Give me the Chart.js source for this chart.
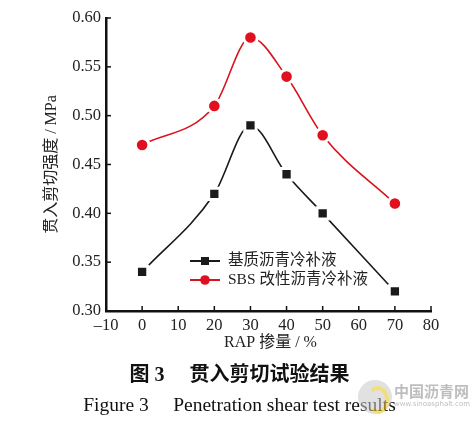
<!DOCTYPE html>
<html>
<head>
<meta charset="utf-8">
<script src="https://cdn.jsdelivr.net/npm/chart.js@4.4.0/dist/chart.umd.min.js"></script>
<style>
  html, body { margin: 0; padding: 0; background: #fff; }
  #wrap { position: relative; width: 475px; height: 424px; overflow: hidden; }
  #cap1, #cap2 { position: absolute; left: 0; width: 475px; text-align: center; white-space: pre; color: #111;
    font-family: 'Liberation Serif', 'Noto Sans CJK SC', serif; }
  #cap1 { top: 358px; left: 2px; font-size: 20px; font-weight: bold; }
  #cap2 { top: 388px; left: 2px; font-size: 19.5px; }
  #wm { position: absolute; left: 358px; top: 378px; width: 117px; height: 40px; opacity: 0.55; }
  #wm .logo { position: absolute; left: 0; top: 2px; width: 34px; height: 34px; border-radius: 50%; background: #c8c8c8; }
  #wm .logo:after { content: ''; position: absolute; left: 9px; top: 6px; width: 14px; height: 20px; border: 4px solid #e7c21a; border-left-color: transparent; border-radius: 50%; }
  #wm .t1 { position: absolute; left: 36px; top: 2px; font: bold 15px 'Noto Sans CJK SC', sans-serif; color: #888; }
  #wm .t2 { position: absolute; left: 36px; top: 22px; font: 7px 'DejaVu Sans', sans-serif; color: #888; }
</style>
</head>
<body>
<div id="wrap">
  <canvas id="chart" width="475" height="424"></canvas>
  <div id="cap1">图 3　 贯入剪切试验结果</div>
  <div id="cap2">Figure 3　 Penetration shear test results</div>
  <div id="wm"><div class="logo"></div><div class="t1">中国沥青网</div><div class="t2">www.sinoasphalt.com</div></div>
</div>
<script>
// RAP 掺量 (%)
const rapContent = [0, 20, 30, 40, 50, 70];
// 贯入剪切强度 (MPa)
const baseAsphalt = [0.34, 0.42, 0.49, 0.44, 0.40, 0.32];
const sbsAsphalt = [0.47, 0.51, 0.58, 0.54, 0.48, 0.41];
const seriesNames = ['基质沥青冷补液', 'SBS 改性沥青冷补液'];
const xTitle = 'RAP 掺量 / %';
const yTitle = '贯入剪切强度 / MPa';

const serif = "'Liberation Serif', 'Noto Sans CJK SC', serif";

function toPoints(xs, ys) {
  return xs.map((x, i) => ({ x: x, y: ys[i] }));
}

// 刻度线朝内，坐标轴标题，图例
const extras = {
  id: 'extras',
  afterDraw(chart) {
    const ctx = chart.ctx;
    const xs = chart.scales.x, ys = chart.scales.y;
    const area = chart.chartArea;
    ctx.save();
    ctx.strokeStyle = '#111';
    ctx.lineWidth = 1.5;
    xs.ticks.forEach(t => {
      const px = xs.getPixelForValue(t.value);
      ctx.beginPath();
      ctx.moveTo(px, area.bottom);
      ctx.lineTo(px, area.bottom - 5);
      ctx.stroke();
    });
    ys.ticks.forEach(t => {
      const py = ys.getPixelForValue(t.value);
      ctx.beginPath();
      ctx.moveTo(area.left, py);
      ctx.lineTo(area.left + 5, py);
      ctx.stroke();
    });

    ctx.fillStyle = '#222';
    ctx.font = '16px ' + serif;
    ctx.textAlign = 'center';
    ctx.textBaseline = 'middle';
    ctx.fillText(xTitle, (area.left + area.right) / 2 + 2, 343);
    ctx.translate(52, (area.top + area.bottom) / 2);
    ctx.rotate(-Math.PI / 2);
    ctx.fillText(yTitle, 0, 0);
    ctx.restore();

    // 图例
    ctx.save();
    const lx = 190, lw = 30, rows = [261, 280];
    chart.data.datasets.forEach((ds, i) => {
      const y = rows[i];
      ctx.strokeStyle = ds.borderColor;
      ctx.lineWidth = 2;
      ctx.beginPath();
      ctx.moveTo(lx, y);
      ctx.lineTo(lx + lw, y);
      ctx.stroke();
      ctx.fillStyle = ds.pointBackgroundColor;
      if (ds.pointStyle === 'rect') {
        ctx.fillRect(lx + lw / 2 - 4, y - 4, 8, 8);
      } else {
        ctx.beginPath();
        ctx.arc(lx + lw / 2, y, 4.8, 0, Math.PI * 2);
        ctx.fill();
      }
      ctx.fillStyle = '#222';
      ctx.font = '15.5px ' + serif;
      ctx.textAlign = 'left';
      ctx.textBaseline = 'middle';
      ctx.fillText(ds.label, lx + lw + 8, y);
    });
    ctx.restore();
  }
};

new Chart(document.getElementById('chart'), {
  type: 'line',
  data: {
    datasets: [
      {
        label: seriesNames[0],
        data: toPoints(rapContent, baseAsphalt),
        borderColor: '#1a1a1a',
        borderWidth: 1.6,
        pointStyle: 'rect',
        pointRadius: 8,
        pointBackgroundColor: '#1a1a1a',
        pointBorderColor: '#ffffff',
        pointBorderWidth: 3,
        cubicInterpolationMode: 'monotone'
      },
      {
        label: seriesNames[1],
        data: toPoints(rapContent, sbsAsphalt),
        borderColor: '#d7141f',
        borderWidth: 1.6,
        pointStyle: 'circle',
        pointRadius: 6.8,
        pointBackgroundColor: '#e0101e',
        pointBorderColor: '#ffffff',
        pointBorderWidth: 3,
        cubicInterpolationMode: 'monotone'
      }
    ]
  },
  options: {
    responsive: false,
    animation: false,
    events: [],
    layout: { padding: { left: 0, top: 18, right: 44, bottom: 0 } },
    plugins: { legend: { display: false }, tooltip: { enabled: false } },
    scales: {
      x: {
        type: 'linear',
        min: -10,
        max: 80,
        afterFit(scale) { scale.height = 113; },
        ticks: { stepSize: 10, padding: 5, color: '#222', font: { family: serif, size: 16.5 },
          callback: v => String(v).replace('-', '\u2013') },
        grid: { drawOnChartArea: false, drawTicks: false },
        border: { color: '#111', width: 2.5 }
      },
      y: {
        min: 0.30,
        max: 0.60,
        afterFit(scale) { scale.width = 106; },
        ticks: { stepSize: 0.05, padding: 5, color: '#222', font: { family: serif, size: 16.5 },
          callback: v => v.toFixed(2) },
        grid: { drawOnChartArea: false, drawTicks: false },
        border: { color: '#111', width: 2.5 }
      }
    }
  },
  plugins: [extras]
});
</script>
</body>
</html>
